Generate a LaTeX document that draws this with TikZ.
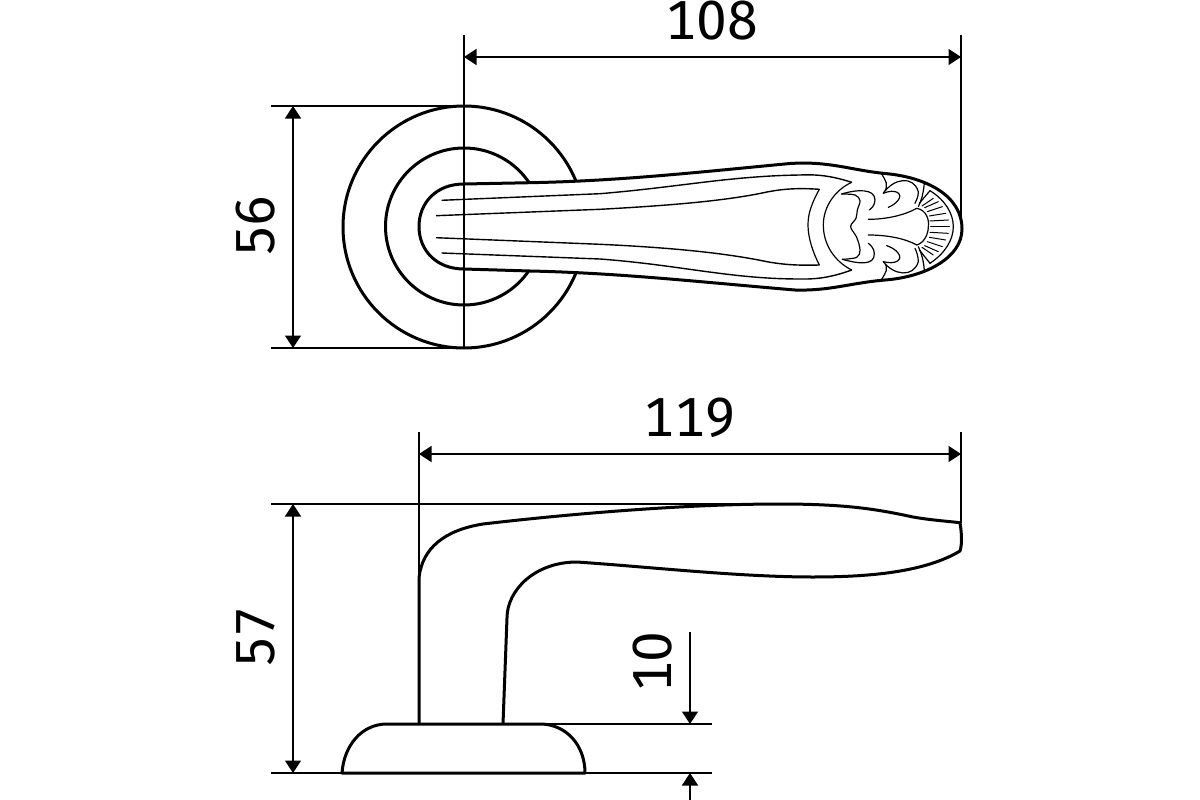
\documentclass[tikz,border=0pt]{standalone}
\usepackage{fontspec}
\setmainfont[Numbers=Monospaced]{Fira Sans}
\usetikzlibrary{arrows.meta}
\tikzset{
  heavy/.style={line width=3pt,line join=round,black},
  thin/.style={line width=1.4pt,black},
  orn/.style={line width=1.2pt,line cap=round,line join=round,black},
  ray/.style={line width=1pt,line cap=round,black},
  ext/.style={line width=1.5pt,black},
  >={Triangle[length=12.5pt,width=16pt]},
  dim/.style={line width=1.6pt,black,<->},
  dimend/.style={line width=1.6pt,black,->},
  lab/.style={font=\fontsize{55}{55}\selectfont,inner sep=0pt,black}
}
\begin{document}
\begin{tikzpicture}[x=1pt,y=-1pt]
\useasboundingbox[fill=white] (0,0) rectangle (1200,800);
% named anchor points of the dimensions
\coordinate (a108l) at (464,57); \coordinate (a108r) at (961,57);
\coordinate (a56t) at (293,106); \coordinate (a56b) at (293,348);
\coordinate (a119l) at (419,454); \coordinate (a119r) at (961,454);
\coordinate (a57t) at (293,504); \coordinate (a57b) at (293,773);
\coordinate (a10top) at (690,632); \coordinate (a10u) at (690,724);
\coordinate (a10bot) at (690,800); \coordinate (a10d) at (690,773);
% rosette
\draw[heavy] (464,227) circle[radius=121];
\draw[heavy] (464,226.5) circle[radius=78.5];
% handle, front view
\draw[heavy,fill=white] (464,184) -- (530,182.7) .. controls (620,181) and (700,172) .. (790,163.5) .. controls (830,161) and (850,170) .. (885,173.5) .. controls (925,177) and (962,195) .. (962,229) .. controls (962,258) and (925,277) .. (885,280) .. controls (850,283) and (830,291) .. (795,290) .. controls (700,282) and (620,273) .. (530,271) -- (464,269) .. controls (436,269) and (419,250) .. (419,226.5) .. controls (419,203) and (436,184) .. (464,184) -- cycle;
% long inner lines
\draw[thin] (441.7,200.3) -- (600,193.7) .. controls (680,187) and (730,176) .. (800,175) .. controls (820,174) and (835,177) .. (851.7,182.3);
\draw[thin] (436,215.7) -- (600,209.3) .. controls (680,205) and (730,200) .. (767,192) .. controls (785,188.5) and (800,188) .. (819.3,189.3);
\draw[thin] (436,237.7) -- (600,244.3) .. controls (680,248) and (730,254) .. (767,261.7) .. controls (785,265) and (800,265.5) .. (819.3,265);
\draw[thin] (441.7,253) -- (600,259) .. controls (680,265) and (730,279) .. (800,279) .. controls (820,279.5) and (835,276) .. (851.7,270);
% ornament, in the crop's own units
\begin{scope}[shift={(780,150)},x=.3333pt,y=-.3333pt]
\draw[orn] (215,97) .. controls (165,120) and (130,170) .. (130,225) .. controls (130,285) and (165,335) .. (215,360);
\draw[orn] (118,118) .. controls (95,160) and (84,190) .. (84,225) .. controls (84,265) and (100,310) .. (118,345);
% centre piece
\draw[orn] plot[smooth,tension=.6] coordinates {(185,132) (225,135) (240,152) (232,180) (228,205) (212,230) (230,262) (240,300) (230,322) (187,328)};
\draw[orn] (185,132) .. controls (230,118) and (285,115) .. (285,150) .. controls (285,165) and (275,175) .. (268,180);
\draw[orn] (187,328) .. controls (230,340) and (285,350) .. (283,310) .. controls (282,295) and (272,285) .. (265,280);
% stems and lobe
\draw[orn] (265,208) .. controls (320,208) and (375,195) .. (410,175) .. controls (440,180) and (448,210) .. (445,230) .. controls (445,255) and (430,280) .. (410,285) .. controls (375,265) and (320,255) .. (265,255);
% upper leaf
\draw[orn] (305,72) .. controls (315,90) and (330,105) .. (310,130) .. controls (340,85) and (400,75) .. (415,125) .. controls (415,140) and (410,150) .. (405,160);
\draw[orn] (310,130) .. controls (345,115) and (370,130) .. (355,150) .. controls (348,160) and (335,168) .. (325,172);
% lower leaf
\draw[orn] (305,388) .. controls (315,370) and (330,355) .. (310,335) .. controls (340,375) and (400,385) .. (415,335) .. controls (415,320) and (410,305) .. (405,295);
\draw[orn] (310,335) .. controls (345,345) and (370,330) .. (355,310) .. controls (348,300) and (335,292) .. (320,287);
% fan
\draw[orn] (450,122) .. controls (495,150) and (520,190) .. (520,230) .. controls (520,270) and (495,310) .. (450,340);
\draw[orn] (433,100) .. controls (430,130) and (425,150) .. (415,170);
\draw[orn] (433,360) .. controls (430,330) and (425,310) .. (415,290);
\draw[ray] (452,230) -- (508,230);
\draw[ray] (450,213) -- (505,210); \draw[ray] (450,247) -- (505,250);
\draw[ray] (448,198) -- (497,190); \draw[ray] (448,262) -- (497,270);
\draw[ray] (442,185) -- (487,170); \draw[ray] (442,275) -- (487,290);
\draw[ray] (434,173) -- (475,155); \draw[ray] (434,287) -- (475,305);
\draw[ray] (426,168) -- (460,145); \draw[ray] (426,292) -- (460,315);
\draw[orn] (418,160) -- (450,122); \draw[orn] (418,300) -- (450,340);
\end{scope}
% side view
\draw[heavy] (419,723) -- (419,578) .. controls (422,548) and (445,530) .. (483,524) .. controls (560,515) and (680,504) .. (780,504) .. controls (850,504) and (880,510) .. (913,517) .. controls (930,520) and (945,521) .. (960,522.7) .. controls (962,535) and (962,545) .. (960,551) .. controls (925,572) and (870,577) .. (813,577) .. controls (740,577) and (650,567) .. (577,562) .. controls (535,562) and (507,590) .. (507,618) -- (503,724);
% base
\draw[heavy] (342,773) .. controls (344,745) and (362,724) .. (387,724) -- (540,724) .. controls (566,724) and (585,745) .. (585,773) -- cycle;
% extension lines
\draw[ext] (271,106) -- (464,106);
\draw[ext] (271,348) -- (464,348);
\draw[ext] (464,35) -- (464,348);
\draw[ext] (961,35) -- (961,223);
\draw[ext] (419,432) -- (419,578);
\draw[ext] (961,432) -- (961,523);
\draw[ext] (271,504) -- (780,504);
\draw[ext] (271,773) -- (342,773);
\draw[ext] (585,773) -- (712,773);
\draw[ext] (540,724) -- (712,724);
% dimensions
\draw[dim] (a108l) -- (a108r);
\draw[dim] (a56t) -- (a56b);
\draw[dim] (a119l) -- (a119r);
\draw[dim] (a57t) -- (a57b);
\draw[dimend] (a10top) -- (a10u);
\draw[dimend] (a10bot) -- (a10d);
% labels
\node[lab] (t108) at (712,21) {108};
\node[lab] (t119) at (690,418) {119};
\node[lab,rotate=90] (t56) at (256,226) {56};
\node[lab,rotate=90] (t57) at (256,637) {57};
\node[lab,rotate=90] (t10) at (653,662) {10};
\end{tikzpicture}
\end{document}
